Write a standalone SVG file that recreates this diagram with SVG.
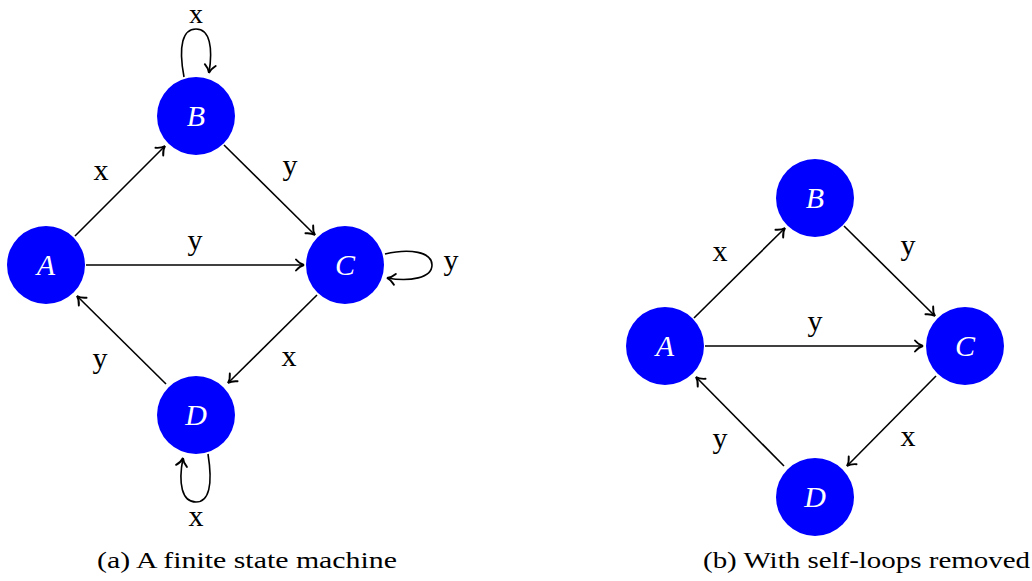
<svg xmlns="http://www.w3.org/2000/svg" width="1032" height="581" viewBox="0 0 1032 581">
<style>
.node circle{fill:#0000FF}
.node text{fill:#fff;font-family:"Liberation Serif",serif;font-style:italic;font-size:30px;text-anchor:middle}
.edges path,.edges line{stroke:#000;stroke-width:1.6;fill:none;marker-end:url(#arr)}
.lbl{font-family:"Liberation Serif",serif;font-size:30px;text-anchor:middle;fill:#000}
.cap{font-family:"Liberation Serif",serif;font-size:24px;fill:#000}
</style>
<defs>
<marker id="arr" markerUnits="userSpaceOnUse" markerWidth="16" markerHeight="16" viewBox="-12 -8 14 16" refX="0" refY="0" orient="auto">
<path d="M -8,-5.5 C -5,-2 -2,-0.5 0,0 C -2,0.5 -5,2 -8,5.5" fill="none" stroke="#000" stroke-width="1.9" stroke-linecap="round"/>
</marker>
</defs>
<rect width="1032" height="581" fill="#fff"/>
<g class="edges" id="edges-a">
<line x1="75" y1="236" x2="165" y2="146"/>
<line x1="224" y1="145" x2="315" y2="235"/>
<line x1="86" y1="265" x2="304" y2="265"/>
<line x1="317" y1="295" x2="228" y2="383"/>
<line x1="166" y1="384" x2="77" y2="296"/>
<path d="M 184,77 C 178,45 183,29 196,29 C 210,29 213,48 209,73"/>
<path d="M 385,254 C 410,248 432,252 432,265 C 432,278 410,282 387,278"/>
<path d="M 208,454 C 213,485 209,502 196,502 C 182,502 178,484 183,458"/>
</g>
<g class="edges" id="edges-b">
<line x1="694" y1="318" x2="785" y2="228"/>
<line x1="844" y1="226" x2="935" y2="316"/>
<line x1="705" y1="346" x2="923" y2="346"/>
<line x1="936" y1="376" x2="847" y2="466"/>
<line x1="784" y1="466" x2="696" y2="377"/>
</g>
<g id="labels-a">
<text class="lbl" x="101" y="180">x</text>
<text class="lbl" x="290" y="175">y</text>
<text class="lbl" x="195" y="250">y</text>
<text class="lbl" x="451" y="270">y</text>
<text class="lbl" x="100" y="368">y</text>
<text class="lbl" x="289" y="366">x</text>
<text class="lbl" x="196" y="23" style="font-size:28px">x</text>
<text class="lbl" x="196" y="526">x</text>
</g>
<g id="labels-b">
<text class="lbl" x="720" y="261">x</text>
<text class="lbl" x="908" y="255">y</text>
<text class="lbl" x="815" y="331">y</text>
<text class="lbl" x="720" y="448">y</text>
<text class="lbl" x="908" y="446">x</text>
</g>
<g class="node" id="a-A"><circle cx="46" cy="265" r="39"/><text x="46" y="275">A</text></g>
<g class="node" id="a-B"><circle cx="196" cy="116" r="39"/><text x="196" y="126">B</text></g>
<g class="node" id="a-C"><circle cx="345" cy="265" r="39"/><text x="345" y="275">C</text></g>
<g class="node" id="a-D"><circle cx="196" cy="415" r="39"/><text x="196" y="425">D</text></g>
<g class="node" id="b-A"><circle cx="665" cy="346" r="39"/><text x="665" y="356">A</text></g>
<g class="node" id="b-B"><circle cx="815" cy="198" r="39"/><text x="815" y="208">B</text></g>
<g class="node" id="b-C"><circle cx="965" cy="346" r="39"/><text x="965" y="356">C</text></g>
<g class="node" id="b-D"><circle cx="815" cy="497" r="39"/><text x="815" y="507">D</text></g>
<text class="cap" x="97" y="568" textLength="300" lengthAdjust="spacingAndGlyphs">(a) A finite state machine</text>
<text class="cap" x="703" y="568" textLength="327" lengthAdjust="spacingAndGlyphs">(b) With self-loops removed</text>
</svg>
